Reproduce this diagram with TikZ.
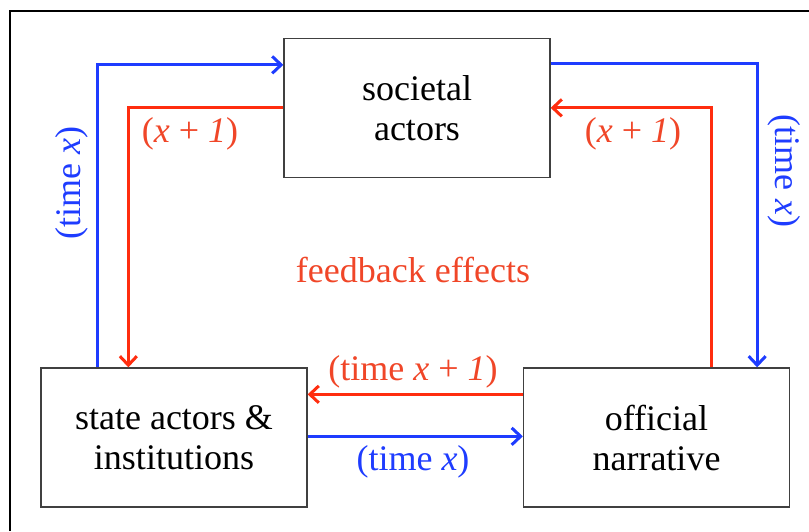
\documentclass[tikz,border=0pt]{standalone}
\usepackage{fontspec}
\setmainfont{Liberation Serif}
\usetikzlibrary{arrows.meta}
\definecolor{myblue}{RGB}{30,60,255}
\definecolor{myred}{RGB}{255,45,15}
\definecolor{redtext}{RGB}{240,70,40}
\begin{document}
\begin{tikzpicture}[x=1pt,y=1pt,
  box/.style={draw=black!75,line width=1.3pt,minimum width=266pt,minimum height=139pt,align=center,font=\fontsize{36}{40}\selectfont,inner sep=0pt},
  bluearr/.style={draw=myblue,line width=3pt,-{Straight Barb[length=9pt,width=17pt,line width=3pt]}},
  redarr/.style={draw=myred,line width=3pt,-{Straight Barb[length=9pt,width=17pt,line width=3pt]}},
  lbl/.style={font=\fontsize{36}{40}\selectfont,inner sep=0pt}]
\useasboundingbox (0,0) rectangle (809,-531);
\draw[line width=2pt] (10,-531) -- (10,-11) -- (809,-11);
\node[box] (soc) at (417,-108) {societal\\actors};
\node[box] (st) at (174,-437.5) {state actors \&\\institutions};
\node[box] (off) at (656.5,-437.5) {official\\narrative};
% blue time x
\draw[bluearr] ([xshift=57pt]st.north west) |- ([yshift=-27pt]soc.north west);
\draw[bluearr] ([yshift=-26pt]soc.north east) -| ([xshift=-33pt]off.north east);
\draw[bluearr] ([yshift=-69pt]st.north east) -- ([yshift=-69pt]off.north west);
% red feedback
\draw[redarr] ([yshift=-70pt]soc.north west) -| ([xshift=88pt]st.north west);
\draw[redarr] ([xshift=-79pt]off.north east) |- ([yshift=-70pt]soc.north east);
\draw[redarr] ([yshift=-27pt]off.north west) -- ([yshift=-27pt]st.north east);
% labels
\node[lbl,text=redtext] (l1) at (190,-134) {(\textit{x} + \textit{1})};
\node[lbl,text=redtext] (l2) at (633,-134) {(\textit{x} + \textit{1})};
\node[lbl,text=myblue,rotate=90] (l3) at (72,-183) {(time \textit{x})};
\node[lbl,text=myblue,rotate=-90] (l4) at (784,-171) {(time \textit{x})};
\node[lbl,text=redtext] (l5) at (413,-270) {feedback effects};
\node[lbl,text=redtext] (l6) at (413,-372) {(time \textit{x} + \textit{1})};
\node[lbl,text=myblue] (l7) at (413,-462) {(time \textit{x})};
\end{tikzpicture}
\end{document}
